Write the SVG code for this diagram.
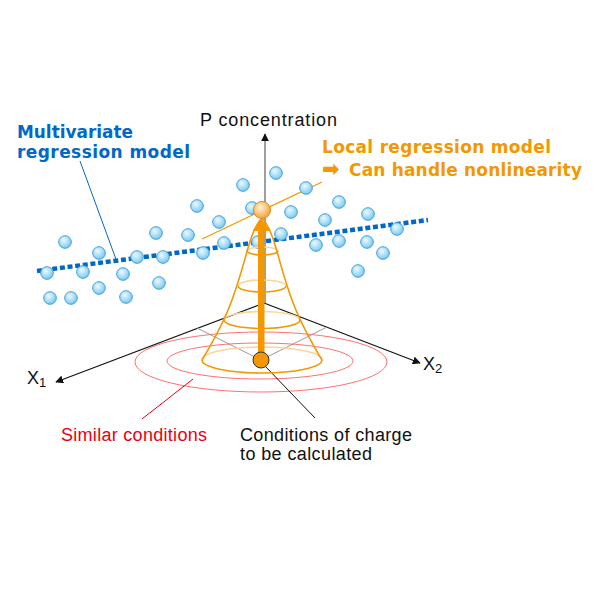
<svg xmlns="http://www.w3.org/2000/svg" width="600" height="600" viewBox="0 0 600 600">
<defs>
  <radialGradient id="gBlue" cx="0.4" cy="0.35" r="0.65">
    <stop offset="0" stop-color="#eefaff"/>
    <stop offset="1" stop-color="#79c9f0"/>
  </radialGradient>
  <radialGradient id="gOrange" cx="0.4" cy="0.35" r="0.65">
    <stop offset="0" stop-color="#fff0d6"/>
    <stop offset="1" stop-color="#f5a53a"/>
  </radialGradient>
  <marker id="arrBlack" viewBox="0 0 10 10" refX="9" refY="5" markerWidth="8" markerHeight="8" markerUnits="userSpaceOnUse" orient="auto">
    <path d="M0,0 L10,5 L0,10 Z" fill="#111"/>
  </marker>
  <style>
    .dot { fill: url(#gBlue); stroke: #3f9fdc; stroke-width: 1; }
    .axis { stroke: #111; stroke-width: 1.2; fill: none; }
    .proj { stroke: #999; stroke-width: 1; fill: none; }
    .sim { stroke: #f33; stroke-opacity: 0.7; stroke-width: 1; fill: none; }
    .ringBack { stroke: #fbd59d; stroke-width: 1.6; fill: none; }
    .ringFront { stroke: #f39800; stroke-width: 1.6; fill: none; }
    .lbl { font-family: "Liberation Sans", Arial, sans-serif; font-size: 18px; }
    .bold { font-family: "DejaVu Sans", "Liberation Sans", sans-serif; font-size: 17px; font-weight: bold; }
  </style>
</defs>

<!-- similar-condition ellipses -->
<g id="similar-rings">
  <ellipse class="sim" cx="261" cy="362" rx="126" ry="30"/>
  <ellipse class="sim" cx="260" cy="361" rx="93" ry="18"/>
</g>

<g id="connectors">
  <!-- axes -->
  <line class="axis" x1="264" y1="303" x2="56" y2="382" marker-end="url(#arrBlack)"/>
  <line class="axis" x1="264" y1="303" x2="420" y2="363" marker-end="url(#arrBlack)"/>
  <line x1="265" y1="303" x2="265" y2="134" stroke="#777" stroke-width="1.4" marker-end="url(#arrBlack)"/>
  <!-- projection lines -->
  <line class="proj" x1="197" y1="328" x2="261" y2="360"/>
  <line class="proj" x1="327" y1="327" x2="261" y2="360"/>
  <!-- regression lines -->
  <line x1="37" y1="271" x2="428" y2="220" stroke="#0068c8" stroke-width="4.5" stroke-dasharray="5 2.7"/>
  <line x1="202" y1="239" x2="322" y2="182" stroke="#f39800" stroke-width="1.3"/>
  <!-- leader lines -->
  <line x1="80" y1="161" x2="117" y2="262" stroke="#0068c8" stroke-width="1"/>
  <line x1="193" y1="379" x2="142" y2="419" stroke="#e60012" stroke-width="1"/>
  <line x1="265" y1="366" x2="315" y2="418" stroke="#111" stroke-width="1"/>
</g>

<g id="data-points">
  <circle class="dot" cx="276" cy="173" r="6.3"/>
  <circle class="dot" cx="243" cy="185" r="6.3"/>
  <circle class="dot" cx="306" cy="188" r="6.3"/>
  <circle class="dot" cx="197" cy="206" r="6.3"/>
  <circle class="dot" cx="252" cy="208" r="6.3"/>
  <circle class="dot" cx="291" cy="212" r="6.3"/>
  <circle class="dot" cx="219" cy="222" r="6.3"/>
  <circle class="dot" cx="339" cy="202" r="6.3"/>
  <circle class="dot" cx="325" cy="220" r="6.3"/>
  <circle class="dot" cx="368" cy="214" r="6.3"/>
  <circle class="dot" cx="397" cy="229" r="6.3"/>
  <circle class="dot" cx="156" cy="233" r="6.3"/>
  <circle class="dot" cx="188" cy="235" r="6.3"/>
  <circle class="dot" cx="281" cy="234" r="6.3"/>
  <circle class="dot" cx="339" cy="241" r="6.3"/>
  <circle class="dot" cx="316" cy="245" r="6.3"/>
  <circle class="dot" cx="367" cy="242" r="6.3"/>
  <circle class="dot" cx="224" cy="243" r="6.3"/>
  <circle class="dot" cx="258" cy="242" r="6.3"/>
  <circle class="dot" cx="65" cy="242" r="6.3"/>
  <circle class="dot" cx="99" cy="253" r="6.3"/>
  <circle class="dot" cx="137" cy="257" r="6.3"/>
  <circle class="dot" cx="163" cy="257" r="6.3"/>
  <circle class="dot" cx="203" cy="253" r="6.3"/>
  <circle class="dot" cx="383" cy="253" r="6.3"/>
  <circle class="dot" cx="358" cy="271" r="6.3"/>
  <circle class="dot" cx="47" cy="273" r="6.3"/>
  <circle class="dot" cx="83" cy="272" r="6.3"/>
  <circle class="dot" cx="123" cy="274" r="6.3"/>
  <circle class="dot" cx="159" cy="283" r="6.3"/>
  <circle class="dot" cx="99" cy="288" r="6.3"/>
  <circle class="dot" cx="50" cy="298" r="6.3"/>
  <circle class="dot" cx="71" cy="298" r="6.3"/>
  <circle class="dot" cx="126" cy="297" r="6.3"/>
</g>

<g id="cone">
  <path class="ringBack" d="M202,360 A60,13 0 0 1 322,360"/>
  <path class="ringBack" d="M224,320 A38,8.5 0 0 1 300,320"/>
  <path class="ringBack" d="M238,286 A24,6 0 0 1 286,286"/>
  <path class="ringBack" d="M247,251 A15.5,4 0 0 1 278,251"/>
  <path d="M202,360 C214,340 224,322 232,300 C240,278 244,262 248,248 C252,234 256,224 262,218 C268,224 272,234 276,248 C280,262 284,278 292,300 C300,322 310,340 322,360" fill="none" stroke="#f39800" stroke-width="1.6"/>
  <path class="ringFront" d="M202,360 A60,13 0 0 0 322,360"/>
  <path class="ringFront" d="M224,320 A38,8.5 0 0 0 300,320"/>
  <path class="ringFront" d="M238,286 A24,6 0 0 0 286,286"/>
  <path class="ringFront" d="M247,251 A15.5,4 0 0 0 278,251"/>
</g>

<g id="estimate-arrow">
  <rect x="258" y="229" width="6.5" height="131" fill="#f39800"/>
  <path d="M252.5,231 L270,231 L261.2,218 Z" fill="#f39800"/>
</g>

<g id="estimated-point">
  <circle cx="262" cy="210" r="8.5" fill="url(#gOrange)" stroke="#d98a1e" stroke-width="1"/>
</g>

<g id="target-point">
  <circle cx="261" cy="360" r="8" fill="#f39800" stroke="#333" stroke-width="1"/>
</g>

<g id="labels">
  <text class="lbl" x="200" y="126" fill="#111" textLength="137" lengthAdjust="spacing">P concentration</text>
  <text class="bold" x="17" y="137.5" fill="#0068c8" textLength="116" lengthAdjust="spacingAndGlyphs">Multivariate</text>
  <text class="bold" x="17" y="157.5" fill="#0068c8" textLength="173" lengthAdjust="spacing">regression model</text>
  <text class="bold" x="322" y="152.5" fill="#f39800" textLength="229" lengthAdjust="spacing">Local regression model</text>
  <text class="bold" x="322" y="176" fill="#f39800"><tspan font-size="21">➡</tspan><tspan x="349" textLength="233" lengthAdjust="spacing">Can handle nonlinearity</tspan></text>
  <text class="lbl" x="27" y="384" fill="#111" font-size="22">X<tspan font-size="13" dy="3">1</tspan></text>
  <text class="lbl" x="423" y="370" fill="#111" font-size="21">X<tspan font-size="13" dy="3">2</tspan></text>
  <text class="lbl" x="61" y="441" fill="#e60012" textLength="146" lengthAdjust="spacing">Similar conditions</text>
  <text class="lbl" x="240" y="441" fill="#111" font-size="16.5" textLength="172" lengthAdjust="spacing">Conditions of charge</text>
  <text class="lbl" x="240" y="460" fill="#111" font-size="16.5" textLength="132" lengthAdjust="spacing">to be calculated</text>
</g>
</svg>
